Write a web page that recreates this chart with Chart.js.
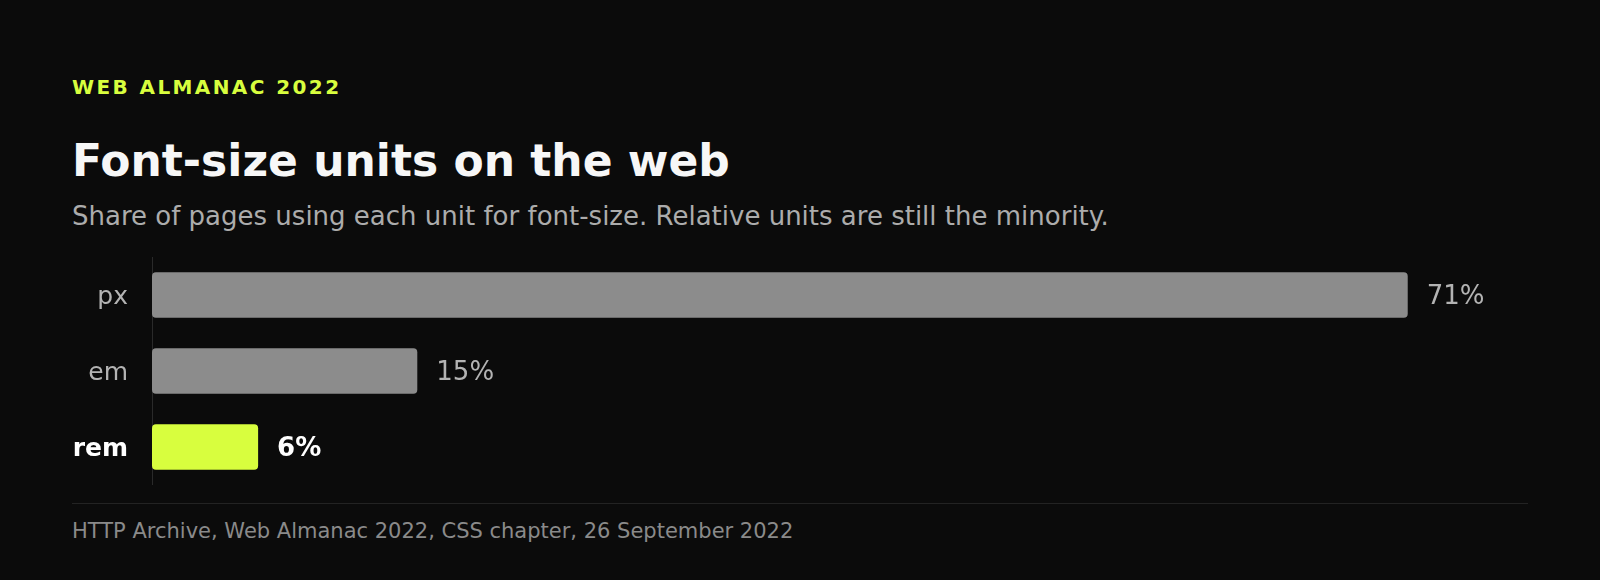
<!DOCTYPE html>
<html>
<head>
<meta charset="utf-8">
<script src="https://cdn.jsdelivr.net/npm/chart.js@4"></script>
<style>
  html, body { margin: 0; background: #0b0b0b; }
  body {
    width: 1600px;
    height: 580px;
    box-sizing: border-box;
    padding: 75px 72px 0;
    font-family: "DejaVu Sans", sans-serif;
    overflow: hidden;
  }
  .eyebrow {
    font-size: 20px;
    line-height: 24px;
    font-weight: bold;
    letter-spacing: 2.4px;
    color: #d8fe3e;
  }
  h1 {
    margin: 36px 0 0;
    font-size: 44px;
    line-height: 52px;
    color: #f7f7f7;
  }
  .sub {
    margin-top: 14px;
    font-size: 26px;
    line-height: 30px;
    color: #acacac;
  }
  .chart-wrap {
    position: relative;
    margin-top: 26px;
    width: 1456px;
    height: 228px;
  }
  .rule {
    margin-top: 18px;
    border-top: 1px solid #232323;
  }
  .source {
    margin-top: 15px;
    font-size: 21px;
    line-height: 24px;
    color: #8a8a8a;
  }
</style>
</head>
<body>
  <div class="eyebrow">WEB ALMANAC 2022</div>
  <h1>Font-size units on the web</h1>
  <div class="sub">Share of pages using each unit for font-size. Relative units are still the minority.</div>
  <div class="chart-wrap"><canvas id="chart"></canvas></div>
  <div class="rule"></div>
  <div class="source">HTTP Archive, Web Almanac 2022, CSS chapter, 26 September 2022</div>

<script>
// share of pages (%) per font-size unit
const units = ["px", "em", "rem"];
const shares = [71, 15, 6];
const highlight = "rem";

const LIME = "#d8fe3e";
const GREY_BAR = "#8c8c8c";
const GREY_TXT = "#b3b3b3";
const FONT = "'DejaVu Sans', sans-serif";

const isHi = (i) => units[i] === highlight;

// value labels at the end of each bar
const valueLabels = {
  id: "valueLabels",
  afterDatasetsDraw(chart) {
    const ctx = chart.ctx;
    const meta = chart.getDatasetMeta(0);
    ctx.save();
    ctx.textBaseline = "middle";
    ctx.textAlign = "left";
    meta.data.forEach((bar, i) => {
      ctx.font = (isHi(i) ? "bold " : "") + "26px " + FONT;
      ctx.fillStyle = isHi(i) ? "#ffffff" : GREY_TXT;
      ctx.fillText(shares[i] + "%", bar.x + 19, bar.y + 2);
    });
    ctx.restore();
  },
};

new Chart(document.getElementById("chart"), {
  type: "bar",
  data: {
    labels: units,
    datasets: [{
      data: shares,
      backgroundColor: units.map((u) => (u === highlight ? LIME : GREY_BAR)),
      borderRadius: 4,
      borderSkipped: false,
      barPercentage: 0.6,
      categoryPercentage: 1,
    }],
  },
  options: {
    indexAxis: "y",
    responsive: true,
    maintainAspectRatio: false,
    animation: false,
    layout: { padding: 0 },
    plugins: { legend: { display: false }, tooltip: { enabled: false } },
    scales: {
      x: { display: false, min: 0, max: 77.8 },
      y: {
        grid: { display: false, drawTicks: false },
        border: { display: true, color: "#2a2a2a", width: 1 },
        afterFit: (scale) => {
          // fixed gutter for the labels, and no extra vertical padding
          scale.width = 80;
          scale.paddingTop = 0;
          scale.paddingBottom = 0;
        },
        ticks: {
          padding: 24,
          labelOffset: 2,
          font: (c) => ({ family: FONT, size: 25, weight: isHi(c.index) ? "bold" : "normal" }),
          color: (c) => (isHi(c.index) ? "#ffffff" : GREY_TXT),
        },
      },
    },
  },
  plugins: [valueLabels],
});
</script>
</body>
</html>
